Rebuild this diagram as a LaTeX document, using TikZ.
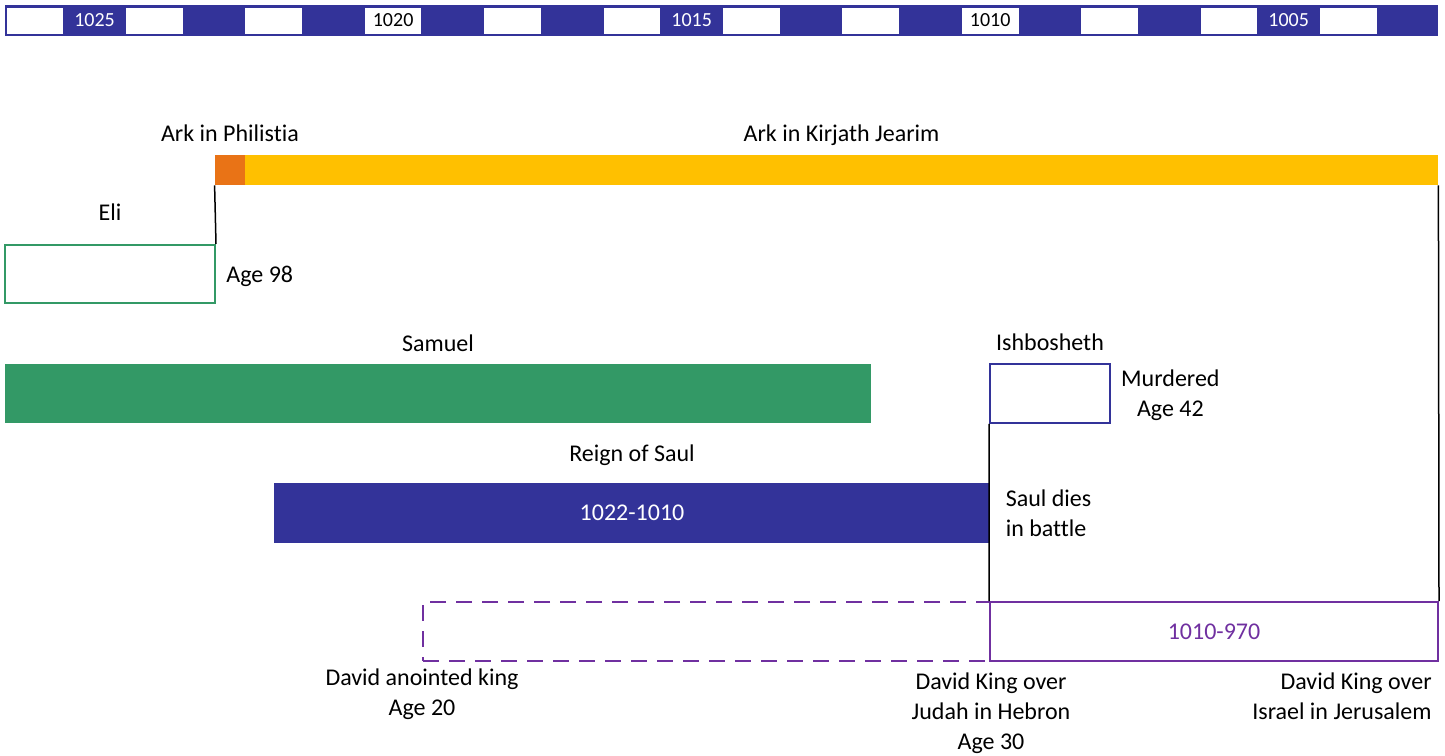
\documentclass[tikz,border=0pt]{standalone}
\usepackage{fontspec}
\setmainfont{Carlito}[RawFeature={-liga;-clig;-dlig;-rlig;-calt}]
\usepackage{tikz}
\usetikzlibrary{fit,positioning}
\definecolor{saul-blue}{HTML}{333399}
\definecolor{samuel-green}{HTML}{339966}
\definecolor{ark-orange}{HTML}{E97316}
\definecolor{ark-yellow}{HTML}{FFC000}
\definecolor{david-purple}{HTML}{7030A0}
\tikzset{
    fill-bar/.style = {rectangle, inner sep=0pt, fill=#1},
    open-bar/.style = {rectangle, inner sep=0pt, draw=#1, line width=1pt},
    year-cell/.style = {rectangle, inner sep=0pt, fill=white},
    year-text/.style = {inner sep=0pt, font=\fontsize{10}{12}\selectfont},
    label-text/.style = {inner sep=0pt, text depth=0pt, align=center},
    link/.style = {draw=black, line width=0.75pt},
}

\begin{document}
\begin{tikzpicture}[x=0.5pt, y=-0.5pt, font=\fontsize{12}{15}\selectfont]
\useasboundingbox (0,0) rectangle (1445,755);

% year scale
\node[fill-bar=saul-blue, fit={(5,5) (1438,36)}] (years) {};
\foreach \i in {0,2,...,22}
    \node[year-cell, fit={({5+\i*59.708+1.5},7.5) ({5+(\i+1)*59.708-1.5},33.5)}] (cell\i) {};
\foreach \yr/\i/\c in {1025/1/white, 1020/6/black, 1015/11/white, 1010/16/black, 1005/21/white}
    \node[year-text, text=\c] at ({5+(\i+0.5)*59.708},20.5) {\yr};

% the ark
\node[fill-bar=ark-orange, fit={(215,155) (245,185)}] (philistia) {};
\node[fill-bar=ark-yellow, fit={(245,155) (1438,185)}] (kirjath) {};
\node[label-text, above=6.5pt] at (philistia.north) {Ark in Philistia};
\node[label-text, above=6.5pt] at (kirjath.north) {Ark in Kirjath Jearim};

% judges and kings
\node[open-bar=samuel-green, fit={(5,245) (215,303)}] (eli) {};
\node[label-text, above=11.5pt] at (eli.north) {Eli};
\node[label-text, right=5pt] at (eli.east) {Age 98};

\node[fill-bar=samuel-green, fit={(5,364) (871,423)}] (samuel) {};
\node[label-text, above=6pt] at (samuel.north) {Samuel};

\node[open-bar=saul-blue, line width=0.8pt, fit={(990,364) (1110,423)}] (ishbosheth) {};
\node[label-text, above=6pt] at (ishbosheth.north) {Ishbosheth};
\node[label-text, right=5pt] at (ishbosheth.east) {Murdered\\Age 42};

\node[fill-bar=saul-blue, text=white, fit={(274,483) (990,543)}] (saul) {};
\node[text=white] at (saul.center) {1022-1010};
\node[label-text, above=10.5pt] at (saul.north) {Reign of Saul};
\node[label-text, align=left, right=7.5pt] at (saul.east) {Saul dies\\in battle};

\draw[link] (philistia.south west) -- (eli.north east);

\node[open-bar=david-purple, dash pattern=on 8pt off 5pt, fit={(423,602) (990,661)}] (anointed) {};
\node[open-bar=david-purple, fit={(990,602) (1438,661)}] (israel) {};
\node[text=david-purple] at (israel.center) {1010-970};

\draw[link] (kirjath.south east) -- (israel.north east);
\draw[link] (ishbosheth.south west) -- (israel.north west);

\node[label-text, below=3pt] at (anointed.south west) {David anointed king\\Age 20};
\node[label-text, below=5pt] at (anointed.south east) {David King over\\Judah in Hebron\\Age 30};
\node[label-text, align=right, below left=5pt and 3.5pt] at (israel.south east) {David King over\\Israel in Jerusalem};
\end{tikzpicture}
\end{document}
